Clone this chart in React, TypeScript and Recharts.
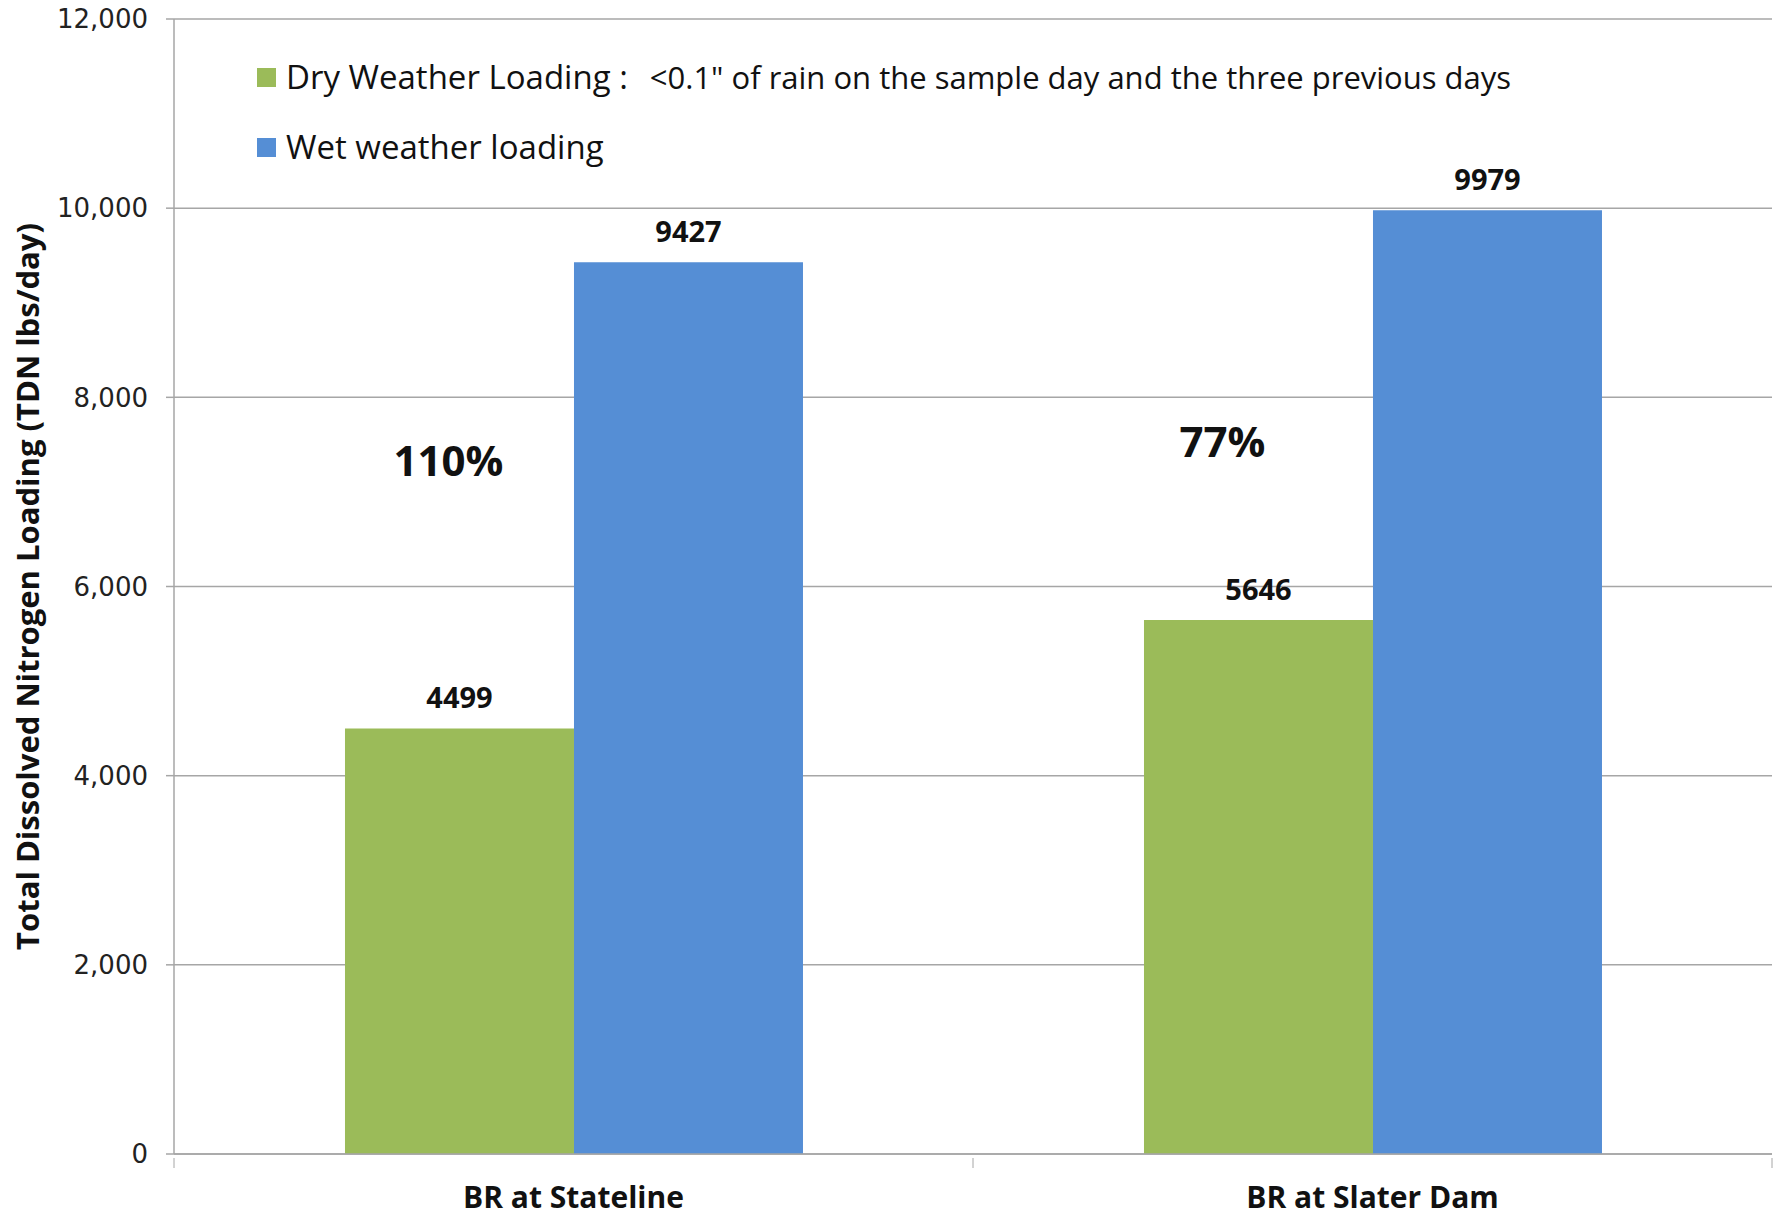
import React from "react";
import {
  BarChart,
  Bar,
  XAxis,
  YAxis,
  CartesianGrid,
  LabelList,
  Legend,
  ReferenceDot,
  Label,
} from "recharts";

const sites = ["BR at Stateline", "BR at Slater Dam"];
const dryLoading = [4499, 5646];
const wetLoading = [9427, 9979];
const yTicks = [0, 2000, 4000, 6000, 8000, 10000, 12000];
const pctLabels = ["110%", "77%"];
const pctHeights = [7330, 7530];

const GREEN = "#9BBB59";
const BLUE = "#558ED5";
const GRID = "#A6A6A6";

const W = 1783;
const H = 1219;
const Y_AXIS_W = 174;
const RIGHT = 11;
const band = (W - Y_AXIS_W - RIGHT) / sites.length;

const chartData = sites.map((site, i) => ({
  site,
  dry: dryLoading[i],
  wet: wetLoading[i],
}));

const fmt = (v: number) => v.toLocaleString("en-US");

const SiteTick = (props: any) => {
  const { x, y, payload, index } = props;
  const top = y - 4;
  return (
    <g>
      <line x1={x - band / 2} x2={x - band / 2} y1={top} y2={top + 10} stroke={GRID} />
      {index === sites.length - 1 && (
        <line x1={x + band / 2} x2={x + band / 2} y1={top} y2={top + 10} stroke={GRID} />
      )}
      <text
        x={x}
        y={y + 46}
        textAnchor="middle"
        fontFamily="Open Sans"
        fontWeight="bold"
        fontSize={30}
        fill="#111"
      >
        {payload.value}
      </text>
    </g>
  );
};

const LegendBox = () => (
  <div style={{ fontFamily: "Open Sans", fontSize: 33, color: "#111", lineHeight: "34px" }}>
    <div style={{ display: "flex", alignItems: "center", whiteSpace: "nowrap" }}>
      <span style={{ width: 19, height: 19, background: GREEN, marginRight: 10, display: "inline-block" }} />
      {"Dry Weather Loading :"}
      <span style={{ marginLeft: 22, fontSize: 31 }}>{'<0.1" of rain on the sample day and the three previous days'}</span>
    </div>
    <div style={{ display: "flex", alignItems: "center", whiteSpace: "nowrap", marginTop: 36 }}>
      <span style={{ width: 19, height: 19, background: BLUE, marginRight: 10, display: "inline-block" }} />
      Wet weather loading
    </div>
  </div>
);

export default function App() {
  return (
    <div style={{ position: "absolute", left: 0, top: 0, background: "#fff" }}>
      <BarChart
        width={W}
        height={H}
        data={chartData}
        margin={{ top: 19, right: RIGHT, left: 0, bottom: 0 }}
        barCategoryGap="21.4%"
        barGap={0}
      >
        <CartesianGrid vertical={false} stroke={GRID} strokeWidth={1.5} />
        <XAxis
          dataKey="site"
          height={65}
          stroke={GRID}
          strokeWidth={1.5}
          tickLine={false}
          tick={<SiteTick />}
          interval={0}
        />
        <YAxis
          width={Y_AXIS_W}
          domain={[0, 12000]}
          ticks={yTicks}
          tickFormatter={fmt}
          stroke={GRID}
          strokeWidth={1.5}
          tickSize={8}
          tickMargin={18}
          tick={{ fontFamily: "DejaVu Sans", fontSize: 26, fill: "#222" }}
          label={{
            content: (p: any) => {
              const vb = p.viewBox;
              const cx = 27;
              const cy = vb.y + vb.height / 2;
              return (
                <text
                  x={cx}
                  y={cy}
                  transform={`rotate(-90 ${cx} ${cy})`}
                  textAnchor="middle"
                  dominantBaseline="central"
                  fontFamily="Open Sans"
                  fontWeight="bold"
                  fontSize={31}
                  fill="#111"
                >
                  Total Dissolved Nitrogen Loading (TDN lbs/day)
                </text>
              );
            },
          }}
        />
        <Legend
          layout="vertical"
          align="center"
          verticalAlign="middle"
          content={<LegendBox />}
          wrapperStyle={{ top: 60, left: 257, width: "auto", height: "auto" }}
        />
        <Bar dataKey="dry" fill={GREEN} isAnimationActive={false}>
          <LabelList
            dataKey="dry"
            position="top"
            offset={20}
            fontFamily="Open Sans"
            fontWeight="bold"
            fontSize={29}
            fill="#111"
          />
        </Bar>
        <Bar dataKey="wet" fill={BLUE} isAnimationActive={false}>
          <LabelList
            dataKey="wet"
            position="top"
            offset={20}
            fontFamily="Open Sans"
            fontWeight="bold"
            fontSize={29}
            fill="#111"
          />
        </Bar>
        {sites.map((s, i) => (
          <ReferenceDot key={s} x={s} y={pctHeights[i]} r={0} fill="none" stroke="none">
            <Label
              value={pctLabels[i]}
              position="center"
              dx={i === 0 ? -125 : -150}
              fontFamily="Open Sans"
              fontWeight="bold"
              fontSize={42}
              fill="#111"
            />
          </ReferenceDot>
        ))}
      </BarChart>
    </div>
  );
}
